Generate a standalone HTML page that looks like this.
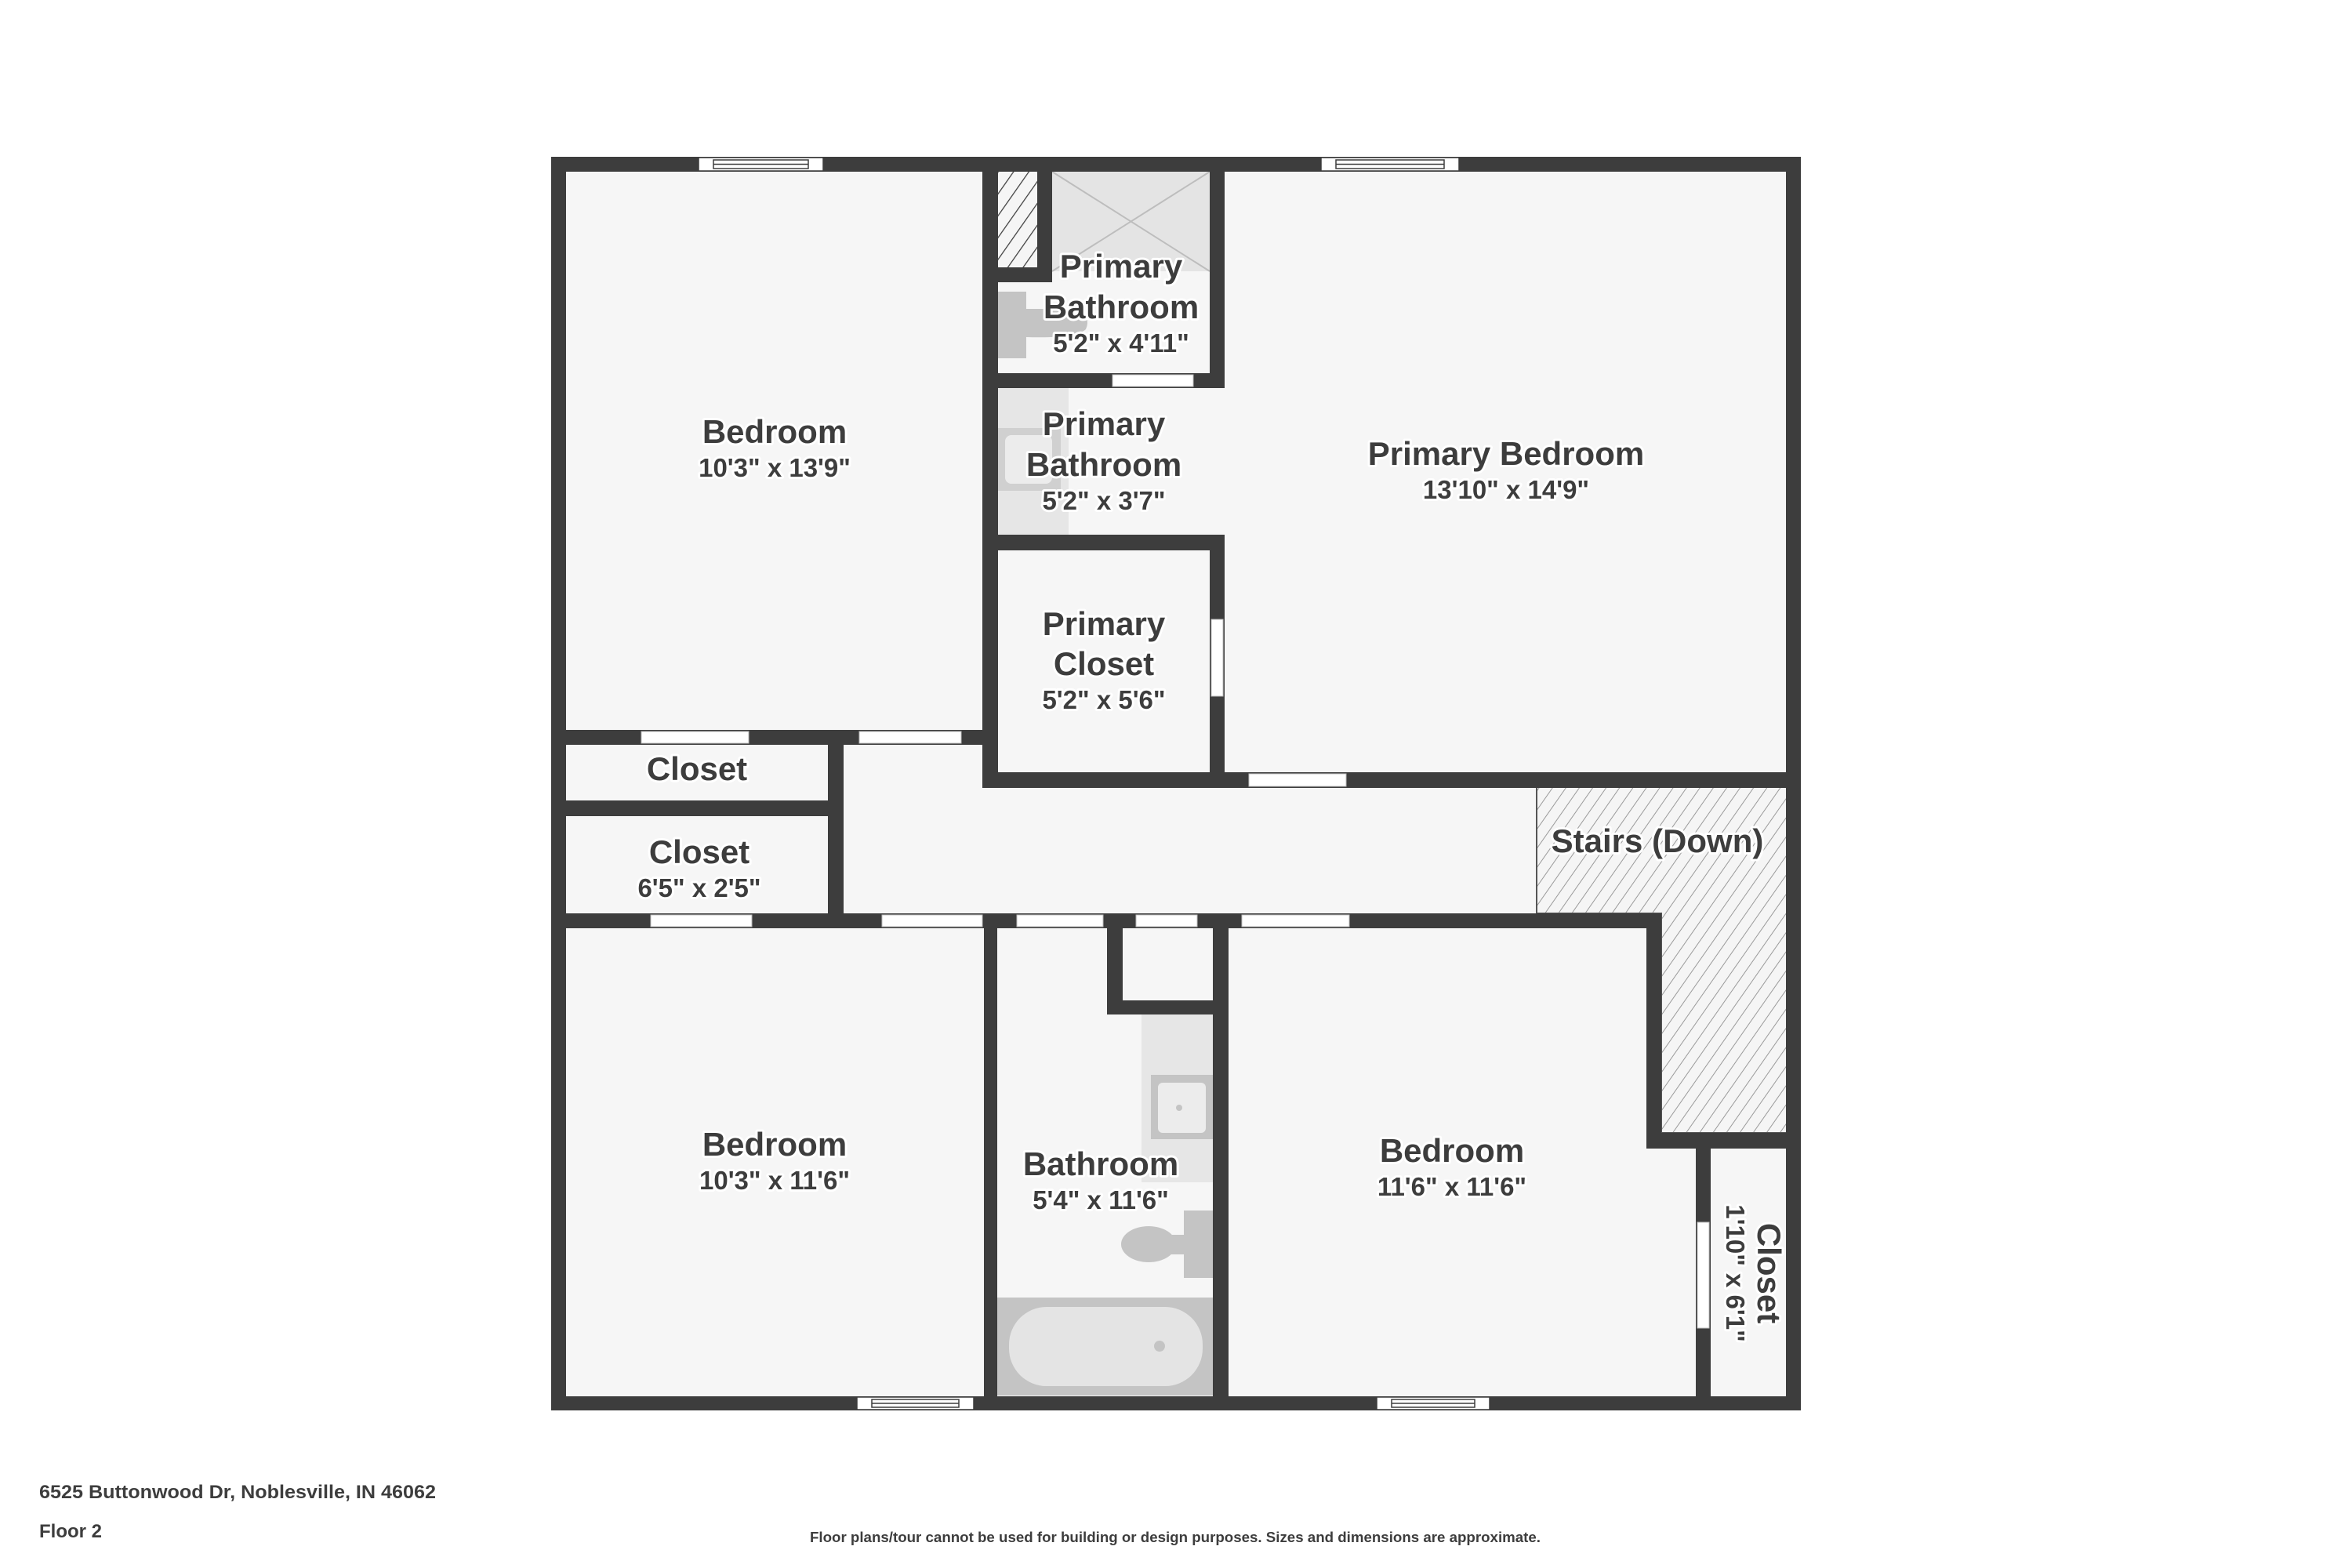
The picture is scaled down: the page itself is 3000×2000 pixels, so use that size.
<!DOCTYPE html>
<html><head><meta charset="utf-8"><style>
html,body{margin:0;padding:0;background:#fff;}
svg{display:block}
text{font-family:"Liberation Sans",sans-serif;font-weight:bold;fill:#3d3d3d;}
.t{font-size:42px;text-anchor:middle;stroke:#fff;stroke-width:6px;paint-order:stroke;stroke-linejoin:round}
.d{font-size:33px;text-anchor:middle;stroke:#fff;stroke-width:6px;paint-order:stroke;stroke-linejoin:round}
</style></head><body>
<svg width="3000" height="2000" viewBox="0 0 3000 2000" xmlns="http://www.w3.org/2000/svg">
<defs>
<pattern id="h" patternUnits="userSpaceOnUse" width="14" height="14" patternTransform="rotate(35)">
<rect width="14" height="14" fill="#f5f5f5"/><line x1="0" y1="0" x2="0" y2="14" stroke="#9a9a9a" stroke-width="2"/></pattern>
<pattern id="h2" patternUnits="userSpaceOnUse" width="16" height="16" patternTransform="rotate(35)">
<rect width="16" height="16" fill="#f5f5f5"/><line x1="0" y1="0" x2="0" y2="16" stroke="#3d3d3d" stroke-width="2.5"/></pattern>
</defs>
<rect width="3000" height="2000" fill="#fff"/>
<rect x="703" y="200" width="1594" height="1599" fill="#f6f6f6"/>
<rect x="1273" y="219" width="50" height="122" fill="url(#h2)"/>
<path d="M1960 1004 H2279 V1445 H2119 V1165 H1960 Z" fill="url(#h)" stroke="#555" stroke-width="2"/>
<rect x="1342" y="219" width="201" height="127" fill="#e4e4e4"/>
<line x1="1342" y1="219" x2="1543" y2="346" stroke="#bdbdbd" stroke-width="2"/>
<line x1="1543" y1="219" x2="1342" y2="346" stroke="#bdbdbd" stroke-width="2"/>
<rect x="1273" y="372" width="36" height="85" fill="#c4c4c4"/>
<path d="M1309 394 H1375 Q1392 404 1385 420 Q1372 432 1309 430 Z" fill="#c4c4c4"/>
<rect x="1273" y="495" width="90" height="187" fill="#e6e6e6"/>
<rect x="1273" y="546" width="80" height="80" fill="#d0d0d0"/>
<rect x="1282" y="555" width="60" height="62" rx="8" fill="#ececec"/>
<rect x="1456" y="1294" width="91" height="214" fill="#e6e6e6"/>
<rect x="1468" y="1371" width="79" height="82" fill="#c4c4c4"/>
<rect x="1477" y="1381" width="61" height="64" rx="6" fill="#ececec"/>
<circle cx="1504" cy="1413" r="4" fill="#c4c4c4"/>
<rect x="1510" y="1544" width="37" height="86" fill="#c4c4c4"/>
<ellipse cx="1465" cy="1587" rx="35" ry="23" fill="#c4c4c4"/>
<rect x="1480" y="1575" width="32" height="25" fill="#c4c4c4"/>
<rect x="1272" y="1655" width="275" height="125" fill="#c4c4c4"/>
<rect x="1287" y="1667" width="247" height="101" rx="48" fill="#e4e4e4"/>
<circle cx="1479" cy="1717" r="7" fill="#c4c4c4"/>
<g fill="#3d3d3d">
<rect x="703" y="200" width="1594" height="19"/>
<rect x="703" y="1781" width="1594" height="18"/>
<rect x="703" y="200" width="19" height="1599"/>
<rect x="2278" y="200" width="19" height="1599"/>
<rect x="1253" y="200" width="20" height="805"/>
<rect x="1323" y="219" width="19" height="141"/>
<rect x="1253" y="341" width="89" height="19"/>
<rect x="1543" y="219" width="19" height="276"/>
<rect x="1253" y="476" width="309" height="19"/>
<rect x="1253" y="682" width="309" height="20"/>
<rect x="1543" y="682" width="19" height="323"/>
<rect x="1253" y="985" width="1044" height="20"/>
<rect x="703" y="931" width="570" height="19"/>
<rect x="1056" y="931" width="20" height="253"/>
<rect x="703" y="1021" width="373" height="20"/>
<rect x="703" y="1165" width="1416" height="19"/>
<rect x="1255" y="1165" width="17" height="634"/>
<rect x="1547" y="1165" width="20" height="634"/>
<rect x="1412" y="1165" width="20" height="129"/>
<rect x="1412" y="1276" width="155" height="18"/>
<rect x="2100" y="1165" width="19" height="300"/>
<rect x="2100" y="1445" width="197" height="20"/>
<rect x="2163" y="1445" width="19" height="354"/>
</g>
<g fill="#fff" stroke="#bbb" stroke-width="1">
<rect x="1419" y="478" width="103" height="15"/>
<rect x="1545" y="790" width="15" height="98"/>
<rect x="1593" y="987" width="124" height="16"/>
<rect x="818" y="933" width="137" height="15"/>
<rect x="1096" y="933" width="130" height="15"/>
<rect x="830" y="1167" width="129" height="15"/>
<rect x="1125" y="1167" width="128" height="15"/>
<rect x="1297" y="1167" width="110" height="15"/>
<rect x="1449" y="1167" width="78" height="15"/>
<rect x="1584" y="1167" width="137" height="15"/>
<rect x="2165" y="1559" width="15" height="135"/>
</g>
<g fill="#fff" stroke="#3d3d3d" stroke-width="1.5">
<rect x="891" y="201" width="159" height="17"/><rect x="910" y="204" width="121" height="11"/><line x1="910" y1="209.5" x2="1031" y2="209.5"/>
<rect x="1685" y="201" width="176" height="17"/><rect x="1704" y="204" width="138" height="11"/><line x1="1704" y1="209.5" x2="1842" y2="209.5"/>
<rect x="1093" y="1782" width="149" height="16"/><rect x="1112" y="1785" width="111" height="10"/><line x1="1112" y1="1790" x2="1223" y2="1790"/>
<rect x="1756" y="1782" width="144" height="16"/><rect x="1775" y="1785" width="106" height="10"/><line x1="1775" y1="1790" x2="1881" y2="1790"/>
</g>
<text class="t" x="988" y="565">Bedroom</text><text class="d" x="988" y="608">10'3" x 13'9"</text>
<text class="t" x="1430" y="354">Primary</text><text class="t" x="1430" y="406">Bathroom</text><text class="d" x="1430" y="449">5'2" x 4'11"</text>
<text class="t" x="1408" y="555">Primary</text><text class="t" x="1408" y="607">Bathroom</text><text class="d" x="1408" y="650">5'2" x 3'7"</text>
<text class="t" x="1921" y="593">Primary Bedroom</text><text class="d" x="1921" y="636">13'10" x 14'9"</text>
<text class="t" x="1408" y="810">Primary</text><text class="t" x="1408" y="861">Closet</text><text class="d" x="1408" y="904">5'2" x 5'6"</text>
<text class="t" x="889" y="995">Closet</text>
<text class="t" x="892" y="1101">Closet</text><text class="d" x="892" y="1144">6'5" x 2'5"</text>
<text class="t" x="2114" y="1087">Stairs (Down)</text>
<text class="t" x="988" y="1474">Bedroom</text><text class="d" x="988" y="1517">10'3" x 11'6"</text>
<text class="t" x="1404" y="1499">Bathroom</text><text class="d" x="1404" y="1542">5'4" x 11'6"</text>
<text class="t" x="1852" y="1482">Bedroom</text><text class="d" x="1852" y="1525">11'6" x 11'6"</text>
<g transform="translate(2230 1624) rotate(90)">
<text class="t" x="0" y="-12">Closet</text><text class="d" x="0" y="28">1'10" x 6'1"</text>
</g>
<text x="50" y="1911" style="font-size:24px" textLength="506" lengthAdjust="spacingAndGlyphs">6525 Buttonwood Dr, Noblesville, IN 46062</text>
<text x="50" y="1961" style="font-size:24px">Floor 2</text>
<text x="1033" y="1967" style="font-size:18px" textLength="932" lengthAdjust="spacingAndGlyphs">Floor plans/tour cannot be used for building or design purposes. Sizes and dimensions are approximate.</text>
</svg>
</body></html>
